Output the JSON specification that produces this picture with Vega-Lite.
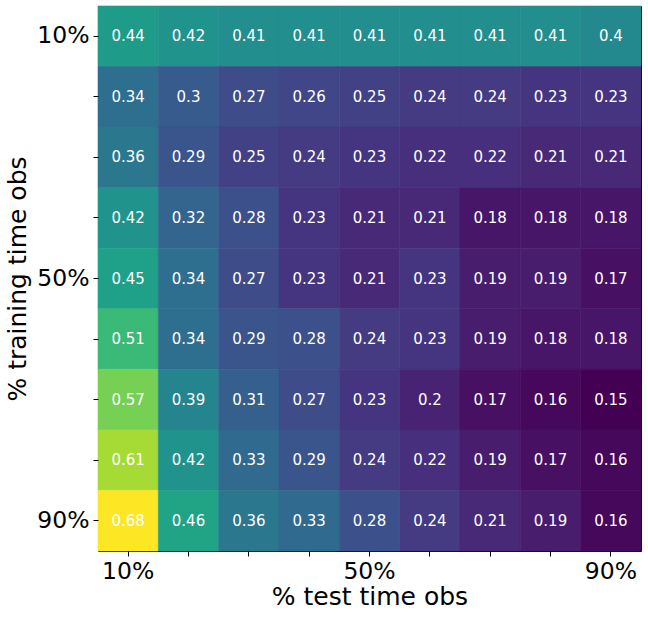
{
  "$schema": "https://vega.github.io/schema/vega-lite/v6.json",
  "width": 543,
  "height": 545,
  "autosize": {"type": "none"},
  "padding": {"left": 98, "top": 6, "right": 7, "bottom": 66},
  "background": "white",
  "config": {"font": "DejaVu Sans", "view": {"stroke": "black", "strokeWidth": 1}},
  "data": {"values": [
    {"train":"10%","test":"10%","v":0.44},{"train":"10%","test":"20%","v":0.42},{"train":"10%","test":"30%","v":0.41},{"train":"10%","test":"40%","v":0.41},{"train":"10%","test":"50%","v":0.41},{"train":"10%","test":"60%","v":0.41},{"train":"10%","test":"70%","v":0.41},{"train":"10%","test":"80%","v":0.41},{"train":"10%","test":"90%","v":0.4},
    {"train":"20%","test":"10%","v":0.34},{"train":"20%","test":"20%","v":0.3},{"train":"20%","test":"30%","v":0.27},{"train":"20%","test":"40%","v":0.26},{"train":"20%","test":"50%","v":0.25},{"train":"20%","test":"60%","v":0.24},{"train":"20%","test":"70%","v":0.24},{"train":"20%","test":"80%","v":0.23},{"train":"20%","test":"90%","v":0.23},
    {"train":"30%","test":"10%","v":0.36},{"train":"30%","test":"20%","v":0.29},{"train":"30%","test":"30%","v":0.25},{"train":"30%","test":"40%","v":0.24},{"train":"30%","test":"50%","v":0.23},{"train":"30%","test":"60%","v":0.22},{"train":"30%","test":"70%","v":0.22},{"train":"30%","test":"80%","v":0.21},{"train":"30%","test":"90%","v":0.21},
    {"train":"40%","test":"10%","v":0.42},{"train":"40%","test":"20%","v":0.32},{"train":"40%","test":"30%","v":0.28},{"train":"40%","test":"40%","v":0.23},{"train":"40%","test":"50%","v":0.21},{"train":"40%","test":"60%","v":0.21},{"train":"40%","test":"70%","v":0.18},{"train":"40%","test":"80%","v":0.18},{"train":"40%","test":"90%","v":0.18},
    {"train":"50%","test":"10%","v":0.45},{"train":"50%","test":"20%","v":0.34},{"train":"50%","test":"30%","v":0.27},{"train":"50%","test":"40%","v":0.23},{"train":"50%","test":"50%","v":0.21},{"train":"50%","test":"60%","v":0.23},{"train":"50%","test":"70%","v":0.19},{"train":"50%","test":"80%","v":0.19},{"train":"50%","test":"90%","v":0.17},
    {"train":"60%","test":"10%","v":0.51},{"train":"60%","test":"20%","v":0.34},{"train":"60%","test":"30%","v":0.29},{"train":"60%","test":"40%","v":0.28},{"train":"60%","test":"50%","v":0.24},{"train":"60%","test":"60%","v":0.23},{"train":"60%","test":"70%","v":0.19},{"train":"60%","test":"80%","v":0.18},{"train":"60%","test":"90%","v":0.18},
    {"train":"70%","test":"10%","v":0.57},{"train":"70%","test":"20%","v":0.39},{"train":"70%","test":"30%","v":0.31},{"train":"70%","test":"40%","v":0.27},{"train":"70%","test":"50%","v":0.23},{"train":"70%","test":"60%","v":0.2},{"train":"70%","test":"70%","v":0.17},{"train":"70%","test":"80%","v":0.16},{"train":"70%","test":"90%","v":0.15},
    {"train":"80%","test":"10%","v":0.61},{"train":"80%","test":"20%","v":0.42},{"train":"80%","test":"30%","v":0.33},{"train":"80%","test":"40%","v":0.29},{"train":"80%","test":"50%","v":0.24},{"train":"80%","test":"60%","v":0.22},{"train":"80%","test":"70%","v":0.19},{"train":"80%","test":"80%","v":0.17},{"train":"80%","test":"90%","v":0.16},
    {"train":"90%","test":"10%","v":0.68},{"train":"90%","test":"20%","v":0.46},{"train":"90%","test":"30%","v":0.36},{"train":"90%","test":"40%","v":0.33},{"train":"90%","test":"50%","v":0.28},{"train":"90%","test":"60%","v":0.24},{"train":"90%","test":"70%","v":0.21},{"train":"90%","test":"80%","v":0.19},{"train":"90%","test":"90%","v":0.16}
  ]},
  "encoding": {
    "x": {"field": "test", "type": "ordinal", "sort": ["10%","20%","30%","40%","50%","60%","70%","80%","90%"],
      "scale": {"paddingInner": 0, "paddingOuter": 0},
      "axis": {"title": "% test time obs", "titleFontSize": 25, "titleFontWeight": "normal", "titleColor": "black", "titlePadding": 2,
        "labelFontSize": 23.5, "labelColor": "black", "labelAngle": 0, "labelPadding": 3,
        "labelExpr": "datum.value == '10%' || datum.value == '50%' || datum.value == '90%' ? datum.value : ''",
        "tickColor": "black", "tickSize": 5, "domain": false}},
    "y": {"field": "train", "type": "ordinal", "sort": ["10%","20%","30%","40%","50%","60%","70%","80%","90%"],
      "scale": {"paddingInner": 0, "paddingOuter": 0},
      "axis": {"title": "% training time obs", "titleFontSize": 25, "titleFontWeight": "normal", "titleColor": "black", "titlePadding": 6,
        "labelFontSize": 23.5, "labelColor": "black", "labelPadding": 4,
        "labelExpr": "datum.value == '10%' || datum.value == '50%' || datum.value == '90%' ? datum.value : ''",
        "tickColor": "black", "tickSize": 5, "domain": false}}
  },
  "layer": [
    {"mark": {"type": "rect", "strokeWidth": 0.6},
     "encoding": {
       "color": {"field": "v", "type": "quantitative", "scale": {"scheme": "viridis", "domain": [0.15, 0.68]}, "legend": null},
       "stroke": {"field": "v", "type": "quantitative", "scale": {"scheme": "viridis", "domain": [0.15, 0.68]}, "legend": null}}},
    {"mark": {"type": "text", "color": "white", "fontSize": 15},
     "encoding": {"text": {"field": "v", "type": "quantitative"}}}
  ]
}
